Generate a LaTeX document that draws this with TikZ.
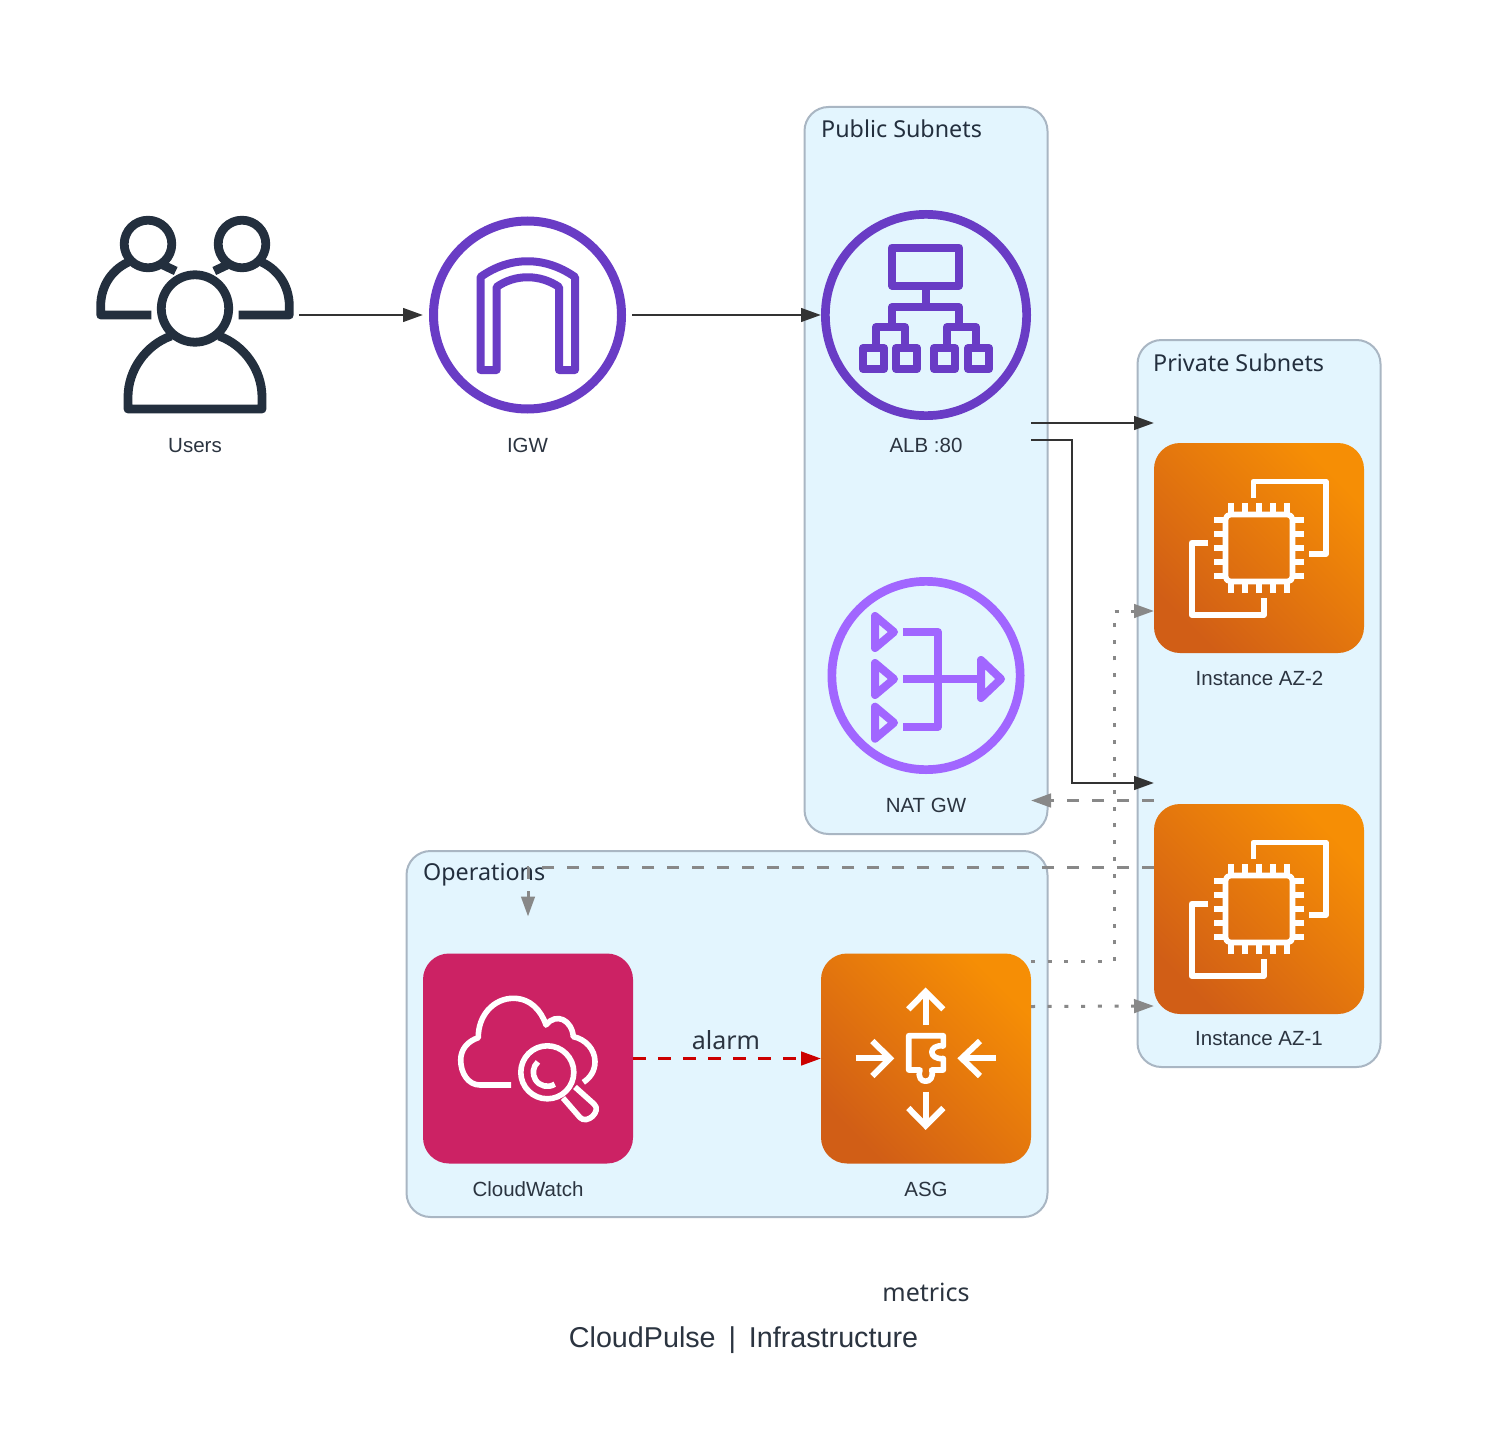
\documentclass[tikz,border=0pt]{standalone}
\usepackage{fontspec}
\setmainfont{Liberation Sans}
\newfontfamily\titlefont{Noto Sans}
\usetikzlibrary{arrows.meta,calc}
\definecolor{groupfill}{HTML}{E3F5FE}
\definecolor{groupline}{HTML}{A9B6C3}
\definecolor{ink}{HTML}{232F3E}
\definecolor{lbl}{HTML}{2B3440}
\definecolor{edgedark}{HTML}{333333}
\definecolor{edgegray}{HTML}{888888}
\definecolor{edgered}{HTML}{CC0000}
\definecolor{igwpurple}{HTML}{693CC5}
\definecolor{natpurple}{HTML}{A166FF}
\definecolor{orangelo}{HTML}{D15E16}
\definecolor{orangehi}{HTML}{F68E05}
\definecolor{pink}{HTML}{CC2264}
\tikzset{
  x=1pt,y=-1pt,
  groupbox/.style={draw=groupline,fill=groupfill,line width=2pt,rounded corners=24pt,inner sep=0pt,outer sep=0pt},
  grouptitle/.style={anchor=west,inner sep=0pt,text=ink,font=\titlefont\fontsize{23.3}{28}\selectfont},
  nodelabel/.style={inner sep=0pt,text=lbl,font=\fontsize{20.5}{24}\selectfont},
  edgelabel/.style={inner sep=0pt,text=lbl,font=\titlefont\fontsize{25}{30}\selectfont},
  orangebox/.style={rectangle,minimum size=210pt,rounded corners=26pt,inner sep=0pt,outer sep=0pt,bottom color=orangelo,top color=orangehi,shading angle=-45},
  pinkbox/.style={rectangle,fill=pink,minimum size=210pt,rounded corners=26pt,inner sep=0pt,outer sep=0pt},
  glyph/.style={draw=white,line width=5.6pt,line join=round},
  tiptri/.style={-{Triangle[length=20pt,width=13.5pt]}},
  flow/.style={draw=edgedark,line width=2.8pt,tiptri},
  graydash/.style={draw=edgegray,line width=3pt,dash pattern=on 12.5pt off 12.5pt,tiptri},
  graydot/.style={draw=edgegray,line width=3pt,dash pattern=on 4pt off 12.7pt,tiptri},
  reddash/.style={draw=edgered,line width=3pt,dash pattern=on 12.5pt off 12.5pt,tiptri}
}
\newcommand{\chipicon}[2]{%
  \begin{scope}[shift={(#1,#2)}]
    \draw[glyph,rounded corners=5pt] (-33.5,-33.5) rectangle (33.5,33.5);
    \foreach \p in {-28,-14,0,14,28} {
      \draw[glyph,line width=5.2pt] (\p,-45) -- (\p,-34);
      \draw[glyph,line width=5.2pt] (\p,45) -- (\p,34);
      \draw[glyph,line width=5.2pt] (-45,\p) -- (-34,\p);
      \draw[glyph,line width=5.2pt] (45,\p) -- (34,\p);
    }
    \draw[glyph] (-5.7,-50) -- (-5.7,-66.5) -- (67,-66.5) -- (67,6) -- (50.3,6);
    \draw[glyph] (-50.7,-5.3) -- (-67.3,-5.3) -- (-67.3,67) -- (5,67) -- (5,50);
  \end{scope}}
\begin{document}
\begin{tikzpicture}
\useasboundingbox (0,0) rectangle (1487,1450);
\fill[white] (0,0) rectangle (1487,1450);

% groups
\node[groupbox,minimum width=243pt,minimum height=727pt] (public) at (926,470.5) {};
\node[groupbox,minimum width=243pt,minimum height=727pt] (private) at (1259,703.5) {};
\node[groupbox,minimum width=641pt,minimum height=366pt] (ops) at (727,1034) {};
\node[grouptitle] (publictitle) at (821,129) {Public Subnets};
\node[grouptitle] (privatetitle) at (1153,363) {Private Subnets};
\node[grouptitle] (opstitle) at (423,875) {Operations};

% icon nodes
\node[minimum size=198pt,inner sep=0pt,outer sep=0pt] (users) at (195,315) {};
\node[circle,draw=igwpurple,line width=9pt,minimum size=188pt,inner sep=0pt] (igw) at (527.5,315) {};
\node[circle,draw=igwpurple,line width=8.7pt,minimum size=201.3pt,inner sep=0pt] (alb) at (926,315) {};
\node[circle,draw=natpurple,line width=8.7pt,minimum size=188.3pt,inner sep=0pt] (nat) at (926,675.5) {};
\node[orangebox] (az2) at (1259,548) {};
\node[orangebox] (az1) at (1259,909) {};
\node[pinkbox] (cw) at (528,1058.5) {};
\node[orangebox] (asg) at (926,1058.5) {};

% users glyph
\begin{scope}[draw=ink,line width=8.8pt,line join=round]
  \draw (195,308.5) circle (33.7);
  \draw (171,336) .. controls (146,345) and (128,370) .. (128,397) -- (128,409) -- (262,409) -- (262,397) .. controls (262,370) and (244,345) .. (219,336);
  \draw (148,244) circle (23.8);
  \draw (242,244) circle (23.8);
  \draw (131,261) .. controls (113,268) and (100.7,285) .. (100.7,306) -- (100.7,315) -- (151.4,315);
  \draw (259,261) .. controls (277,268) and (289.3,285) .. (289.3,306) -- (289.3,315) -- (238.6,315);
  \draw (163,265) -- (175.7,271);
  \draw (227,265) -- (214.3,271);
\end{scope}

% IGW glyph
\draw[igwpurple,line width=8pt,line join=round] (480.5,370) -- (480.5,277) .. controls (510,256) and (545,256) .. (575,277) -- (575,370) -- (559,370) -- (559,287) .. controls (540,274) and (515,274) .. (496.6,287) -- (496.6,370) -- cycle;

% ALB glyph
\begin{scope}[draw=igwpurple,line width=8pt,line join=round]
  \draw (892,247.5) rectangle (959,285.5);
  \draw (926,285.5) -- (926,307);
  \draw (892,327) -- (892,307) -- (959,307) -- (959,327);
  \draw (876,348) -- (876,327) -- (905,327) -- (905,348);
  \draw (947,348) -- (947,327) -- (976,327) -- (976,348);
  \draw (863,348) rectangle (884,369);
  \draw (896,348) rectangle (917,369);
  \draw (934,348) rectangle (955,369);
  \draw (968,348) rectangle (989,369);
\end{scope}

% NAT glyph
\begin{scope}[draw=natpurple,line width=8pt,line join=round]
  \draw (875,616) -- (875,648) -- (894,632) -- cycle;
  \draw (875,663) -- (875,695) -- (894,679) -- cycle;
  \draw (875,706.7) -- (875,738.7) -- (894,722.7) -- cycle;
  \draw (981,660) -- (981,698) -- (1001,679) -- cycle;
  \draw (903,632) -- (938,632) -- (938,726.7) -- (903,726.7);
  \draw (903,679) -- (981,679);
\end{scope}

% instance glyphs
\chipicon{1259}{548}
\chipicon{1259}{909}

% CloudWatch glyph
\draw[glyph] (511,1085) -- (480,1085) .. controls (468,1085) and (460.7,1073) .. (460.7,1060) .. controls (460.7,1049) and (468,1041) .. (478.3,1037.7) .. controls (478,1015) and (494,998.3) .. (513.3,998.3) .. controls (530,998.3) and (541,1010) .. (546,1025) .. controls (556,1012) and (572,1020) .. (573.3,1036.7) .. controls (585,1039) and (595,1049) .. (595,1061.7) .. controls (595,1071) and (590,1078) .. (583.3,1082.3);
\draw[glyph] (547.3,1072.3) circle (26.5);
\draw[glyph] ($(547.3,1072.3)+(58:14)$) arc[start angle=58,end angle=228,radius=14];
\draw[glyph] (563,1098) -- (580,1117.5) .. controls (587,1125) and (602,1111) .. (594,1104) -- (575,1087);

% ASG glyph
\begin{scope}[draw=white,line width=6pt,line join=miter]
  \draw (925.7,1025) -- (925.7,993);
  \draw (908.3,1009.3) -- (925.7,991.7) -- (943.3,1009.3);
  \draw (925.7,1091.7) -- (925.7,1124);
  \draw (908.3,1108) -- (925.7,1125.7) -- (943.3,1108);
  \draw (855.7,1058.3) -- (888,1058.3);
  \draw (872.3,1041) -- (890,1058.3) -- (872.3,1076);
  \draw (995.7,1058.3) -- (963.7,1058.3);
  \draw (980,1041) -- (961.7,1058.3) -- (980,1076);
\end{scope}
\draw[glyph] (908.7,1035.7) -- (943.3,1035.7) -- (943.3,1046) .. controls (928,1044) and (928,1060) .. (943.3,1058.5) -- (943.3,1070) -- (931.7,1070) .. controls (936,1085) and (915,1085) .. (920,1070) -- (908.7,1070) -- cycle;

% labels
\node[nodelabel] (userslabel) at (195,445.5) {Users};
\node[nodelabel] (igwlabel) at (527.5,445) {IGW};
\node[nodelabel] (alblabel) at (926,445) {ALB :80};
\node[nodelabel] (natlabel) at (926,805) {NAT GW};
\node[nodelabel] (az2label) at (1259.5,678) {Instance AZ-2};
\node[nodelabel] (az1label) at (1259,1039) {Instance AZ-1};
\node[nodelabel] (cwlabel) at (528,1189) {CloudWatch};
\node[nodelabel] (asglabel) at (926,1189) {ASG};
\node[edgelabel] (alarmlabel) at (726,1040) {alarm};
\node[edgelabel] (metricslabel) at (926,1292) {metrics};
\node[inner sep=0pt,text=lbl,font=\fontsize{28.7}{34}\selectfont] (titlelabel) at (743.5,1340) {CloudPulse\hspace{0.45em}|\hspace{0.45em}Infrastructure};

% connectors
\draw[flow,shorten <=5pt,shorten >=6pt] (users.east) -- (igw.west);
\draw[flow,shorten <=6pt] (igw.east) -- (alb.west);
\draw[flow] ([yshift=-108pt]alb.east) -- ([yshift=20pt]az2.north west);
\draw[flow] ([yshift=-125pt]alb.east) -- ++(41,0) |- ([yshift=21pt]az1.north west);
\draw[graydash] ([yshift=3.5pt]az1.north west) -- ([xshift=6.5pt,yshift=-125pt]nat.east);
\draw[graydash] ([yshift=42pt]az1.west) -| ([yshift=37pt]cw.north);
\draw[graydot] ([yshift=-8pt]asg.north east) -- ++(83,0) |- ([yshift=-63pt]az2.west);
\draw[graydot] ([yshift=-53pt]asg.north east) -- ([yshift=-97pt]az1.west);
\draw[reddash] (cw.east) -- (asg.west);
\end{tikzpicture}
\end{document}
